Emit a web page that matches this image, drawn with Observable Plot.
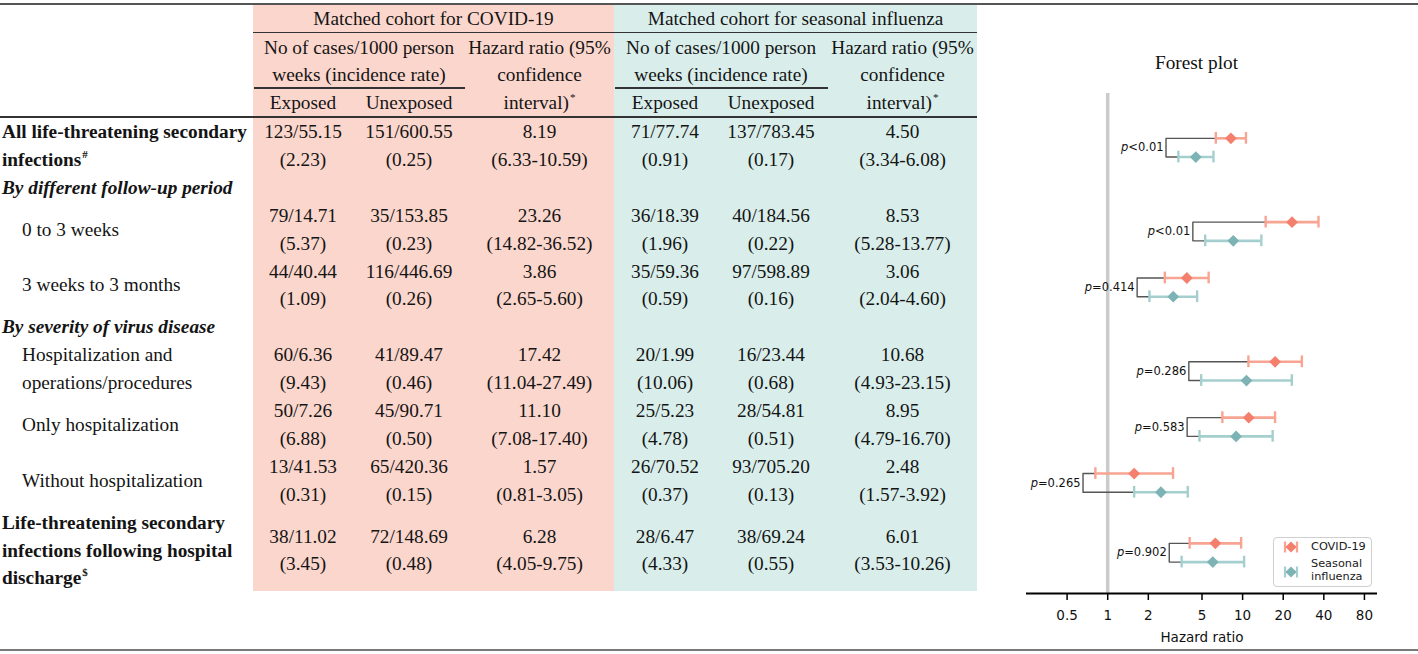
<!DOCTYPE html>
<html><head><meta charset="utf-8">
<script src="https://cdn.jsdelivr.net/npm/d3@7"></script>
<script src="https://cdn.jsdelivr.net/npm/@observablehq/plot@0.6"></script>
<style>
html,body{margin:0;padding:0;background:#fff;}
#root{position:relative;width:1418px;height:654px;overflow:hidden;font-family:"Liberation Serif","Times New Roman",serif;color:#141414;}
.t{position:absolute;white-space:nowrap;font-size:19.3px;line-height:28px;height:28px;}
.b{font-weight:bold;}
.bi{font-weight:bold;font-style:italic;}
.sp{font-size:11px;position:relative;top:-8px;margin-left:1px;}
.r{position:absolute;}
#forest{position:absolute;left:980px;top:0;}
#legend{position:absolute;left:1273px;top:537px;width:97px;height:48px;border:1.3px solid #cfcfcf;border-radius:4px;background:rgba(255,255,255,0.85);font-family:"DejaVu Sans",sans-serif;font-size:11.3px;color:#1a1a1a;}
#legend .lt{position:absolute;left:37px;white-space:nowrap;line-height:12.5px;}
#legend svg{position:absolute;left:9px;}
</style></head><body><div id="root"></div>
<script>
// ---------- data ----------
const groupTitles = ["Matched cohort for COVID-19", "Matched cohort for seasonal influenza"];
const subHeadRate = ["No of cases/1000 person", "weeks (incidence rate)"];
const subHeadHR = ["Hazard ratio (95%", "confidence", "interval)"];
const exposureLabels = ["Exposed", "Unexposed"];

const rowLabels = [
  ["All life-threatening secondary", "infections"],
  ["By different follow-up period"],
  ["0 to 3 weeks"],
  ["3 weeks to 3 months"],
  ["By severity of virus disease"],
  ["Hospitalization and", "operations/procedures"],
  ["Only hospitalization"],
  ["Without hospitalization"],
  ["Life-threatening secondary", "infections following hospital", "discharge"]
];
const rowKinds = ["bold", "section", "sub", "sub", "section", "sub", "sub", "sub", "bold"];
const rowSup = ["#", "", "", "", "", "", "", "", "$"];
const rowLines = [2, 1, 2, 2, 1, 2, 2, 2, 3];

const covidExposed = ["123/55.15", "79/14.71", "44/40.44", "60/6.36", "50/7.26", "13/41.53", "38/11.02"];
const covidExposedIR = ["2.23", "5.37", "1.09", "9.43", "6.88", "0.31", "3.45"];
const covidUnexposed = ["151/600.55", "35/153.85", "116/446.69", "41/89.47", "45/90.71", "65/420.36", "72/148.69"];
const covidUnexposedIR = ["0.25", "0.23", "0.26", "0.46", "0.50", "0.15", "0.48"];
const covidHR = [8.19, 23.26, 3.86, 17.42, 11.10, 1.57, 6.28];
const covidLo = [6.33, 14.82, 2.65, 11.04, 7.08, 0.81, 4.05];
const covidHi = [10.59, 36.52, 5.60, 27.49, 17.40, 3.05, 9.75];

const fluExposed = ["71/77.74", "36/18.39", "35/59.36", "20/1.99", "25/5.23", "26/70.52", "28/6.47"];
const fluExposedIR = ["0.91", "1.96", "0.59", "10.06", "4.78", "0.37", "4.33"];
const fluUnexposed = ["137/783.45", "40/184.56", "97/598.89", "16/23.44", "28/54.81", "93/705.20", "38/69.24"];
const fluUnexposedIR = ["0.17", "0.22", "0.16", "0.68", "0.51", "0.13", "0.55"];
const fluHR = [4.50, 8.53, 3.06, 10.68, 8.95, 2.48, 6.01];
const fluLo = [3.34, 5.28, 2.04, 4.93, 4.79, 1.57, 3.53];
const fluHi = [6.08, 13.77, 4.60, 23.15, 16.70, 3.92, 10.26];

const pValues = ["<0.01", "<0.01", "=0.414", "=0.286", "=0.583", "=0.265", "=0.902"];
const seriesNames = ["COVID-19", "Seasonal influenza"];
const xTicks = [0.5, 1, 2, 5, 10, 20, 40, 80];
const xTickLabels = ["0.5", "1", "2", "5", "10", "20", "40", "80"];
const plotTitle = "Forest plot";
const xLabel = "Hazard ratio";

// ---------- layout helpers ----------
const root = document.getElementById("root");
const LINE0 = 132, LINEH = 27.9;
const lineY = k => LINE0 + LINEH * k;
function put(html, x, yc, align, cls) {
  const d = document.createElement("div");
  d.className = "t " + (cls || "");
  d.innerHTML = html;
  d.style.top = (yc - 14) + "px";
  if (align === "center") { d.style.left = (x - 150) + "px"; d.style.width = "300px"; d.style.textAlign = "center"; }
  else d.style.left = x + "px";
  root.appendChild(d);
}
function rect(x, y, w, h, color) {
  const d = document.createElement("div");
  d.className = "r";
  Object.assign(d.style, {left: x + "px", top: y + "px", width: w + "px", height: h + "px", background: color});
  root.appendChild(d);
}

// backgrounds
const groups = [
  {x0: 253, x1: 614, bg: "#fbd6cc", span: 359, spanX1: 465, exp: 303, unexp: 409, hr: 539.5,
   e: covidExposed, eIR: covidExposedIR, u: covidUnexposed, uIR: covidUnexposedIR, hrv: covidHR, lo: covidLo, hi: covidHi},
  {x0: 614, x1: 977, bg: "#d9eeeb", span: 721, spanX1: 828, exp: 665, unexp: 771, hr: 902.5,
   e: fluExposed, eIR: fluExposedIR, u: fluUnexposed, uIR: fluUnexposedIR, hrv: fluHR, lo: fluLo, hi: fluHi}
];
groups.forEach(g => rect(g.x0, 5, g.x1 - g.x0, 586, g.bg));

// rules
rect(0, 2.5, 1418, 2, "#555");
rect(253, 31.5, 724, 1.5, "#333");
groups.forEach(g => rect(g.x0 + 1, 87, g.spanX1 - g.x0 - 1, 1.5, "#333"));
rect(0, 116, 977, 1.5, "#333");
rect(0, 648.5, 1418, 2.5, "#7a7a7a");

// header text
groups.forEach((g, gi) => {
  put(groupTitles[gi], (g.x0 + g.x1) / 2, 19, "center");
  put(subHeadRate[0], g.span, 48, "center");
  put(subHeadRate[1], g.span, 75, "center");
  put(subHeadHR[0], g.hr, 48, "center");
  put(subHeadHR[1], g.hr, 75, "center");
  put(subHeadHR[2] + '<span class="sp">*</span>', g.hr, 103, "center");
  put(exposureLabels[0], g.exp, 103, "center");
  put(exposureLabels[1], g.unexp, 103, "center");
});

// body
const centers = []; // line-unit centre of each data row
let line = 0, di = 0;
rowLabels.forEach((labels, ri) => {
  const kind = rowKinds[ri], n = rowLines[ri];
  const center = line + (n - 1) / 2;
  if (kind === "section") {
    put(labels[0], 2, lineY(line), "left", "bi");
  } else {
    const x = kind === "bold" ? 2 : 22;
    const cls = kind === "bold" ? "b" : "";
    const start = center - (labels.length - 1) / 2;
    labels.forEach((lab, li) => {
      const sup = (li === labels.length - 1 && rowSup[ri]) ? '<span class="sp">' + rowSup[ri] + '</span>' : "";
      put(lab + sup, x, lineY(start + li), "left", cls);
    });
    groups.forEach(g => {
      put(g.e[di], g.exp, lineY(center - 0.5), "center");
      put("(" + g.eIR[di] + ")", g.exp, lineY(center + 0.5), "center");
      put(g.u[di], g.unexp, lineY(center - 0.5), "center");
      put("(" + g.uIR[di] + ")", g.unexp, lineY(center + 0.5), "center");
      put(g.hrv[di].toFixed(2), g.hr, lineY(center - 0.5), "center");
      put("(" + g.lo[di].toFixed(2) + "-" + g.hi[di].toFixed(2) + ")", g.hr, lineY(center + 0.5), "center");
    });
    centers.push(center);
    di++;
  }
  line += n;
});

// ---------- forest plot ----------
const OFF = 0.335;
const forest = [];
centers.forEach((c, i) => {
  forest.push({series: seriesNames[0], y: c - OFF, hr: covidHR[i], lo: covidLo[i], hi: covidHi[i]});
  forest.push({series: seriesNames[1], y: c + OFF, hr: fluHR[i], lo: fluLo[i], hi: fluHi[i]});
});
const brackets = [], pLabels = [];
centers.forEach((c, i) => {
  const bx = Math.min(covidLo[i], fluLo[i]) * 0.81;
  brackets.push({row: i, x: covidLo[i], y: c - OFF}, {row: i, x: bx, y: c - OFF},
                {row: i, x: bx, y: c + OFF}, {row: i, x: fluLo[i], y: c + OFF});
  pLabels.push({x: bx, y: c, p: pValues[i]});
});

const yDomain = [-1.44, 16.46];
const PXU = 500 / (yDomain[1] - yDomain[0]); // pixels per line unit in the plot frame
const cols = {
  [seriesNames[0]]: {bar: "#f8a493", dot: "#f47f6c"},
  [seriesNames[1]]: {bar: "#a5cfcf", dot: "#7db3b4"}
};
const seriesMarks = seriesNames.flatMap(s => {
  const d = forest.filter(f => f.series === s);
  const c = cols[s];
  return [
    Plot.ruleY(d, {y: "y", x1: "lo", x2: "hi", stroke: c.bar, strokeWidth: 2.6}),
    Plot.ruleX(d, {x: "lo", y1: f => f.y - 0.21, y2: f => f.y + 0.21, stroke: c.bar, strokeWidth: 2.4}),
    Plot.ruleX(d, {x: "hi", y1: f => f.y - 0.21, y2: f => f.y + 0.21, stroke: c.bar, strokeWidth: 2.4}),
    Plot.dot(d, {x: "hr", y: "y", symbol: "diamond2", r: 5.3, fill: c.dot, stroke: "none"})
  ];
});
const tickData = xTicks.map((v, i) => ({v, label: xTickLabels[i]}));

const chart = Plot.plot({
  width: 438, height: 654,
  marginLeft: 46, marginRight: 41, marginTop: 93, marginBottom: 61,
  style: {fontFamily: "DejaVu Sans, sans-serif", fontSize: "13.5px", color: "#111", background: "transparent", overflow: "visible"},
  x: {type: "log", domain: [0.25, 100], axis: null},
  y: {domain: yDomain, reverse: true, axis: null},
  marks: [
    Plot.ruleX([1], {stroke: "#cbcbcb", strokeWidth: 3.5}),
    Plot.line(brackets, {x: "x", y: "y", z: "row", stroke: "#555", strokeWidth: 1.4}),
    ...seriesMarks,
    Plot.text(pLabels, {x: "x", y: "y", text: d => "p" + d.p, textAnchor: "end", dx: -2.5, fontSize: 11.5, fill: "#111", className: "ptext"}),
    Plot.ruleY([yDomain[1]], {stroke: "#000", strokeWidth: 2}),
    Plot.ruleX(tickData, {x: "v", y1: yDomain[1], y2: yDomain[1] + 7 / PXU, stroke: "#000", strokeWidth: 1.5}),
    Plot.text(tickData, {x: "v", y: yDomain[1], text: "label", dy: 22, fontSize: 13.5, fill: "#111", lineAnchor: "middle"}),
    Plot.text([xLabel], {text: d => d, frameAnchor: "bottom", dy: 44, lineAnchor: "middle", fontSize: 13.5, fill: "#111"}),
    Plot.text([plotTitle], {text: d => d, frameAnchor: "top", dy: -31, dx: -5.5, lineAnchor: "middle", fontSize: 19.3, fontFamily: "Liberation Serif, serif", fill: "#111"})
  ]
});
chart.id = "forest";
root.appendChild(chart);

// italic "p" in p-value labels
chart.querySelectorAll(".ptext text").forEach(t => {
  const s = t.textContent;
  t.textContent = "";
  const ns = "http://www.w3.org/2000/svg";
  const a = document.createElementNS(ns, "tspan");
  a.setAttribute("font-style", "italic");
  a.textContent = s.slice(0, 1);
  const b = document.createElementNS(ns, "tspan");
  b.textContent = s.slice(1);
  t.appendChild(a); t.appendChild(b);
});

// legend
const legend = document.createElement("div");
legend.id = "legend";
const legItems = seriesNames.map((s, i) => {
  const c = cols[s];
  const iconY = i === 0 ? 9 : 34;
  const icon = `<svg width="16" height="14" style="top:${iconY - 7}px">
    <line x1="2" x2="14" y1="7" y2="7" stroke="${c.bar}" stroke-width="2.4"/>
    <line x1="2" x2="2" y1="1.5" y2="12.5" stroke="${c.bar}" stroke-width="2.2"/>
    <line x1="14" x2="14" y1="1.5" y2="12.5" stroke="${c.bar}" stroke-width="2.2"/>
    <path d="M8,1.5L13.5,7L8,12.5L2.5,7Z" fill="${c.dot}"/></svg>`;
  const words = s === "Seasonal influenza" ? "Seasonal<br>influenza" : s;
  const top = i === 0 ? 3 : 20;
  return icon + `<div class="lt" style="top:${top}px">${words}</div>`;
});
legend.innerHTML = legItems.join("");
root.appendChild(legend);
</script></body></html>
